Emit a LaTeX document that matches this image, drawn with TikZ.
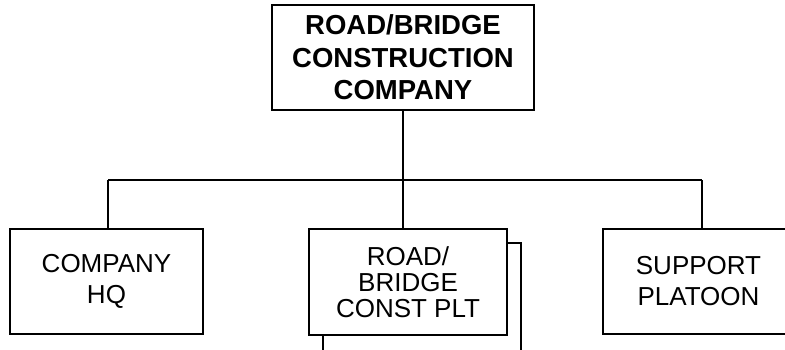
\documentclass[tikz,border=0pt]{standalone}
\usepackage{fontspec}
\setmainfont{Liberation Sans}
\begin{document}
\begin{tikzpicture}[x=1pt,y=-1pt,
  box/.style={draw,line width=1.7pt,fill=white,inner sep=0pt,align=center,
    font=\fontsize{26}{31}\selectfont},
  link/.style={line width=1.7pt}]
\useasboundingbox (0,0) rectangle (785,349);
\clip (0,0) rectangle (785,349);
\node[box,minimum width=262pt,minimum height=105pt,
  font=\bfseries\fontsize{27.5}{32.5}\selectfont] (top) at (403,57.5)
  {ROAD/BRIDGE\\CONSTRUCTION\\COMPANY};
\node[box,minimum width=193pt,minimum height=105pt] (hq) at (106.5,281.5)
  {COMPANY\\HQ};
\node[box,minimum width=198pt,minimum height=112pt] (shadow) at (422,299) {};
\node[box,minimum width=198pt,minimum height=106pt,
  font=\fontsize{26}{26}\selectfont] (mid) at (408,282)
  {ROAD/\\BRIDGE\\CONST PLT};
\node[box,minimum width=191pt,minimum height=105pt] (sup) at (698.5,281.5)
  {SUPPORT\\PLATOON};
\coordinate (busL) at (108,180);
\coordinate (busR) at (702,180);
\draw[link] (busL) -- (busR);
\draw[link] (busL) -- (busL |- hq.north);
\draw[link] (busR) -- (busR |- sup.north);
\draw[link] (top.south) -- (top.south |- mid.north);
\end{tikzpicture}
\end{document}
